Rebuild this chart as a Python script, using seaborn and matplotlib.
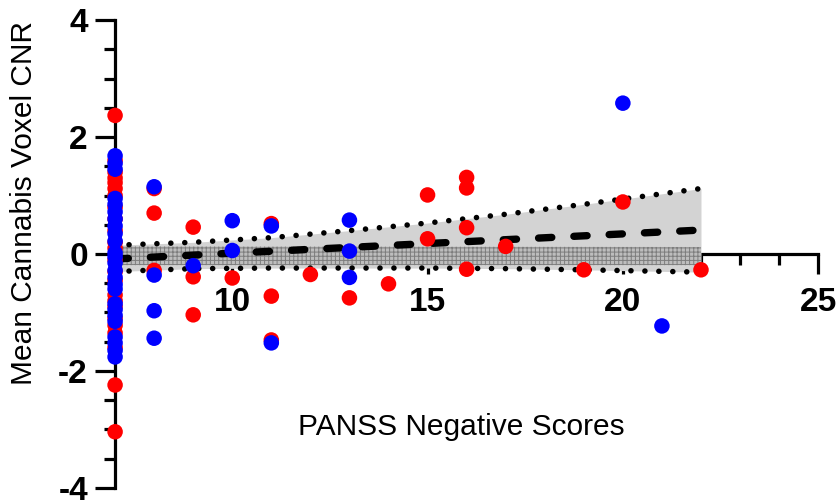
import numpy as np
import pandas as pd
import matplotlib
matplotlib.use("Agg")
import matplotlib.pyplot as plt
import seaborn as sns
from matplotlib.ticker import MultipleLocator

# data
red_x = [7] * 24 + [8, 8, 8, 9, 9, 9, 10, 11, 11, 11, 12, 13, 14, 15, 15,
                    16, 16, 16, 16, 17, 19, 20, 22]
red_y = [2.37, 1.60, 1.40, 1.30, 1.22, 1.12, 1.00, 0.80, 0.60, 0.40, 0.20, 0.10,
         -0.10, -0.30, -0.45, -0.70, -0.80, -0.90, -1.10, -1.22, -1.35, -1.60,
         -2.24, -3.04,
         1.12, 0.70, -0.28, 0.46, -0.39, -1.04, -0.41, 0.52, -0.72, -1.47,
         -0.35, -0.75, -0.51, 1.01, 0.26, 1.31, 1.13, 0.45, -0.26, 0.13,
         -0.27, 0.89, -0.27]

blue_x = [7] * 25 + [8, 8, 8, 8, 9, 10, 10, 11, 11, 13, 13, 13, 20, 21]
blue_y = [1.68, 1.55, 1.45, 0.95, 0.85, 0.72, 0.60, 0.48, 0.35, 0.22, 0.02,
          -0.05, -0.15, -0.28, -0.40, -0.52, -0.60, -0.85, -0.95, -1.05, -1.15,
          -1.42, -1.52, -1.65, -1.76,
          1.15, -0.36, -0.97, -1.44, -0.20, 0.57, 0.06, 0.48, -1.52,
          0.58, 0.05, -0.40, 2.58, -1.23]

# regression line and confidence band
fit_x = [7, 22]
fit_y = [-0.085, 0.41]
ci_x = [7, 9, 11, 13, 15, 17, 19, 22]
ci_hi = [0.15, 0.20, 0.28, 0.40, 0.53, 0.68, 0.85, 1.12]
ci_lo = [-0.30, -0.25, -0.24, -0.24, -0.24, -0.25, -0.27, -0.31]
inner_x = [7, 22]
inner_hi = [0.13, 0.12]
inner_lo = [-0.19, -0.19]

df = pd.DataFrame({
    "x": red_x + blue_x,
    "y": red_y + blue_y,
    "grp": ["red"] * len(red_x) + ["blue"] * len(blue_x),
})

sns.set_theme(style="ticks")
plt.rcParams["font.family"] = ["Liberation Sans", "DejaVu Sans"]
plt.rcParams["axes.unicode_minus"] = False
plt.rcParams["hatch.linewidth"] = 0.7

fig = plt.figure(figsize=(8.4, 5.03), dpi=100)
ax = fig.add_axes([0.137, 0.030, 0.837, 0.930])

# bands
ax.fill_between(ci_x, ci_lo, ci_hi, color="#d3d3d3", lw=0, zorder=3)
ax.fill_between(inner_x, inner_lo, inner_hi, facecolor="#bdbdbd",
                edgecolor="#7d7d7d", hatch="++++", lw=0, zorder=3.1)

# lines
sns.lineplot(x=ci_x, y=ci_hi, ax=ax, color="black", lw=4,
             linestyle=(0, (0.01, 2.5)), dash_capstyle="round", zorder=3.5)
sns.lineplot(x=ci_x, y=ci_lo, ax=ax, color="black", lw=4,
             linestyle=(0, (0.01, 2.5)), dash_capstyle="round", zorder=3.5)
sns.lineplot(x=fit_x, y=fit_y, ax=ax, color="black", lw=5.3,
             linestyle=(0, (1.8, 3.0)), dash_capstyle="round", zorder=3.6)

# points
sns.scatterplot(data=df, x="x", y="y", hue="grp",
                palette={"red": "#ff0000", "blue": "#0000ff"},
                s=125, edgecolor="none", legend=False, ax=ax,
                zorder=4, clip_on=False)

ax.set_xlim(7, 25)
ax.set_ylim(-4, 4)
ax.spines["top"].set_visible(False)
ax.spines["right"].set_visible(False)
ax.spines["bottom"].set_position(("data", 0))
for s in ["left", "bottom"]:
    ax.spines[s].set_linewidth(2.3)
    ax.spines[s].set_color("black")

ax.xaxis.set_major_locator(MultipleLocator(5))
ax.xaxis.set_minor_locator(MultipleLocator(1))
ax.yaxis.set_major_locator(MultipleLocator(2))
ax.yaxis.set_minor_locator(MultipleLocator(0.5))
ax.set_xticks([10, 15, 20, 25])
ax.tick_params(which="major", length=14.5, width=2.3, color="black")
ax.tick_params(which="minor", length=8, width=2.3, color="black")
ax.tick_params(axis="x", which="major", pad=9)
ax.tick_params(axis="y", which="major", pad=5)
for lab in ax.get_xticklabels() + ax.get_yticklabels():
    lab.set_fontweight("bold")
    lab.set_fontsize(24)
    lab.set_color("black")

ax.set_xlabel("PANSS Negative Scores", fontsize=21.5, color="black")
ax.set_ylabel("Mean Cannabis Voxel CNR", fontsize=21.5, color="black")
ax.xaxis.set_label_coords(0.492, 0.16)
ax.yaxis.set_label_coords(-0.11, 0.609)

fig.savefig("out.png", dpi=100)
print("finished.")
